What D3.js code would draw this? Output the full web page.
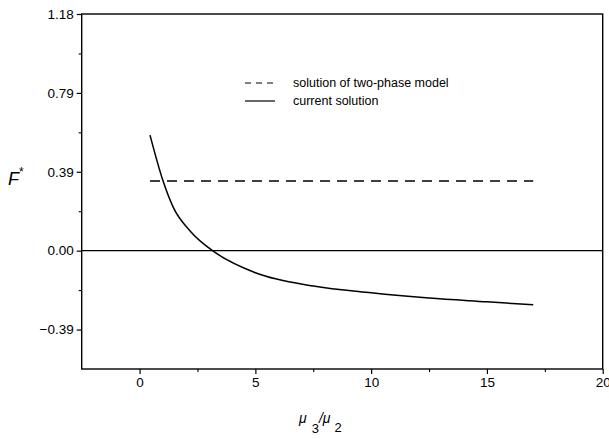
<!DOCTYPE html>
<html>
<head>
<meta charset="utf-8">
<script src="https://cdn.jsdelivr.net/npm/d3@7"></script>
<style>
  html, body { margin: 0; padding: 0; background: #fff; }
  svg text { font-family: "Liberation Sans", Arial, sans-serif; fill: #000; }
</style>
</head>
<body>
<svg id="chart" width="609" height="439"></svg>
<script>
// ---- data ----
const ratioValues = [0.45, 1.0, 1.45, 2.2, 3.2, 5.0, 7.5, 10.0, 12.5, 15.0, 17.0];
const currentSolution = [0.576, 0.352, 0.217, 0.096, -0.004, -0.11, -0.176, -0.21, -0.236, -0.255, -0.27];
const twoPhaseX = [0.45, 17.0];
const twoPhaseValue = [0.347, 0.347];
const xTickValues = [0, 5, 10, 15, 20];
const yStep = 1.18 / 3;
const yTickValues = [-1, 0, 1, 2, 3].map(k => k * yStep);
const legendLabels = ["solution of two-phase model", "current solution"];

// ---- layout ----
const svg = d3.select("#chart");
const L = 81.7, R = 602.7, T = 14, B = 369;
const x = d3.scaleLinear().domain([-2.5, 20]).range([L, R]);
const y = d3.scaleLinear().domain([-1.5 * yStep, 3 * yStep]).range([B, T]);

const g = svg.append("g");

// frame
g.append("rect").attr("x", L).attr("y", T).attr("width", R - L).attr("height", B - T)
  .attr("fill", "none").attr("stroke", "#000").attr("stroke-width", 1.4);

// x axis
const xAxis = d3.axisBottom(x).tickValues(xTickValues).tickSize(5).tickPadding(3).tickFormat(d3.format("d"));
const gx = g.append("g").attr("transform", `translate(0,${B})`).call(xAxis);
gx.select(".domain").remove();
gx.selectAll("line").attr("stroke", "#000").attr("stroke-width", 1.2);
gx.selectAll("text").style("font-size", "13.5px");
g.append("g").attr("transform", `translate(0,${B})`)
  .call(d3.axisBottom(x).tickValues([2.5, 7.5, 12.5, 17.5]).tickSize(3).tickFormat(""))
  .call(s => { s.select(".domain").remove(); s.selectAll("line").attr("stroke", "#000").attr("stroke-width", 1.1); });

// y axis
const yAxis = d3.axisLeft(y).tickValues(yTickValues).tickSize(5).tickPadding(3).tickFormat(d3.format(".2f"));
const gy = g.append("g").attr("transform", `translate(${L},0)`).call(yAxis);
gy.select(".domain").remove();
gy.selectAll("line").attr("stroke", "#000").attr("stroke-width", 1.2);
gy.selectAll("text").style("font-size", "13.5px");
g.append("g").attr("transform", `translate(${L},0)`)
  .call(d3.axisLeft(y).tickValues([-0.5, 0.5, 1.5, 2.5].map(k => k * yStep)).tickSize(3).tickFormat(""))
  .call(s => { s.select(".domain").remove(); s.selectAll("line").attr("stroke", "#000").attr("stroke-width", 1.1); });

// zero line
g.append("line").attr("x1", L).attr("x2", R).attr("y1", y(0)).attr("y2", y(0))
  .attr("stroke", "#000").attr("stroke-width", 1.2);

// two-phase model (dashed)
const line = d3.line().x(d => x(d[0])).y(d => y(d[1]));
g.append("path").datum(twoPhaseX.map((v, i) => [v, twoPhaseValue[i]]))
  .attr("d", line).attr("fill", "none").attr("stroke", "#000")
  .attr("stroke-width", 1.4).attr("stroke-dasharray", "10,7");

// current solution
g.append("path").datum(ratioValues.map((v, i) => [v, currentSolution[i]]))
  .attr("d", d3.line().x(d => x(d[0])).y(d => y(d[1])).curve(d3.curveMonotoneX))
  .attr("fill", "none").attr("stroke", "#000").attr("stroke-width", 1.5)
  .attr("stroke-linejoin", "round");

// legend
const lg = g.append("g");
const legendY = [83, 101];
lg.append("line").attr("x1", 245).attr("x2", 275).attr("y1", legendY[0]).attr("y2", legendY[0])
  .attr("stroke", "#000").attr("stroke-width", 1.2).attr("stroke-dasharray", "6,5");
lg.append("line").attr("x1", 245).attr("x2", 275).attr("y1", legendY[1]).attr("y2", legendY[1])
  .attr("stroke", "#000").attr("stroke-width", 1.2);
legendLabels.forEach((t, i) => {
  lg.append("text").attr("x", 293).attr("y", legendY[i]).attr("dy", "0.35em")
    .style("font-size", "12.5px").text(t);
});

// y label F*
const yl = g.append("text").attr("x", 8).attr("y", 185).style("font-size", "18px").style("font-style", "italic");
yl.append("tspan").text("F");
yl.append("tspan").attr("dy", -9).style("font-size", "12px").style("font-style", "normal").text("*");

// x label  μ 3/μ 2
const xl = g.append("text").attr("x", 299).attr("y", 423).style("font-size", "14px");
xl.append("tspan").style("font-style", "italic").text("μ");
xl.append("tspan").attr("dx", 5).attr("dy", 10).style("font-size", "13px").text("3");
xl.append("tspan").attr("dy", -10).style("font-style", "italic").text("/μ");
xl.append("tspan").attr("dx", 4).attr("dy", 9).style("font-size", "13px").text("2");
</script>
</body>
</html>
